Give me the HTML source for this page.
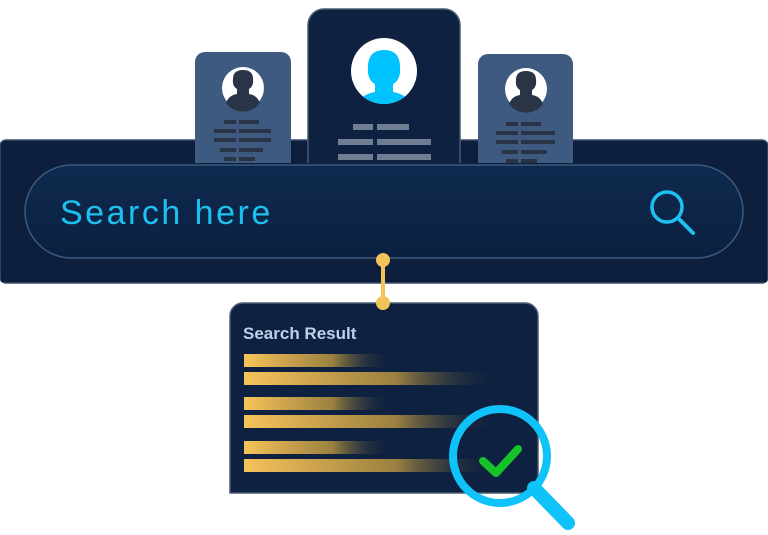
<!DOCTYPE html>
<html><head><style>
body{margin:0;width:768px;height:535px;background:#fff;position:relative;overflow:hidden;font-family:"Liberation Sans",sans-serif}
.a{position:absolute}
</style></head><body>
<svg class="a" style="left:0;top:0" width="768" height="535" viewBox="0 0 768 535">
<defs>
<linearGradient id="g1" x1="0" x2="1"><stop offset="0" stop-color="#f7c35a"/><stop offset="0.6" stop-color="#9a8040"/><stop offset="1" stop-color="#0f2340" stop-opacity="0"/></linearGradient>
<linearGradient id="pill" x1="0" y1="0" x2="0" y2="1"><stop offset="0" stop-color="#0f2a4f"/><stop offset="1" stop-color="#0a2040"/></linearGradient>
</defs>
<rect x="0" y="140" width="768" height="143" rx="6" fill="#0d1f3c" stroke="#3a4f6e" stroke-width="1.5"/>
<!-- cards -->
<path d="M195 163 V62 a10 10 0 0 1 10-10 H281 a10 10 0 0 1 10 10 V163z" fill="#3f5a80"/>
<circle cx="243" cy="88" r="21" fill="#fff"/>
<path d="M226 103 q3-8 11-9 v-5 q-5-3-4-10 q0-9 10-9 q10 0 10 9 q1 7-4 10 v5 q8 1 11 9 a21 21 0 0 1-34 0z" fill="#2a3447"/>
<g fill="#2a3447"><rect x="224" y="120" width="12" height="4"/><rect x="239" y="120" width="20" height="4"/><rect x="214" y="129" width="22" height="4"/><rect x="239" y="129" width="32" height="4"/><rect x="214" y="138" width="22" height="4"/><rect x="239" y="138" width="32" height="4"/><rect x="220" y="148" width="16" height="4"/><rect x="239" y="148" width="24" height="4"/><rect x="224" y="157" width="12" height="4"/><rect x="239" y="157" width="16" height="4"/></g>
<path d="M478 163 V64 a10 10 0 0 1 10-10 H563 a10 10 0 0 1 10 10 V163z" fill="#3f5a80"/>
<circle cx="526" cy="89" r="21" fill="#fff"/>
<path d="M509 104 q3-8 11-9 v-5 q-5-3-4-10 q0-9 10-9 q10 0 10 9 q1 7-4 10 v5 q8 1 11 9 a21 21 0 0 1-34 0z" fill="#2a3447"/>
<g fill="#2a3447"><rect x="506" y="122" width="12" height="4"/><rect x="521" y="122" width="20" height="4"/><rect x="496" y="131" width="22" height="4"/><rect x="521" y="131" width="34" height="4"/><rect x="496" y="140" width="22" height="4"/><rect x="521" y="140" width="34" height="4"/><rect x="502" y="150" width="16" height="4"/><rect x="521" y="150" width="26" height="4"/><rect x="506" y="159" width="12" height="4"/><rect x="521" y="159" width="16" height="4"/></g>
<path d="M308 163 V25 a16 16 0 0 1 16-16 H444 a16 16 0 0 1 16 16 V163" fill="#0f2140" stroke="#4a5b74" stroke-width="1.5"/>
<circle cx="384" cy="71" r="33" fill="#fff"/>
<clipPath id="cc"><circle cx="384" cy="71" r="33"/></clipPath>
<path clip-path="url(#cc)" d="M355 110 q3-15 20-18 v-8 q-8-4-7-17 q0-17 16-17 q16 0 16 17 q1 13-7 17 v8 q17 3 20 18z" fill="#00c2ff"/>
<g fill="#6f7e92"><rect x="353" y="124" width="20" height="6"/><rect x="377" y="124" width="32" height="6"/><rect x="338" y="139" width="35" height="6"/><rect x="377" y="139" width="54" height="6"/><rect x="338" y="154" width="35" height="6"/><rect x="377" y="154" width="54" height="6"/></g>
<rect x="1" y="163" width="766" height="119" fill="#0d1f3c"/>
<rect x="25" y="165" width="718" height="93" rx="46.5" fill="url(#pill)" stroke="#3a5a80" stroke-width="1.5"/>
<text x="60" y="224" font-family="Liberation Sans" font-size="34" fill="#1ec0f0" letter-spacing="2.5">Search here</text>
<circle cx="667" cy="207" r="15" fill="none" stroke="#1ec0f0" stroke-width="3.5"/>
<line x1="678" y1="218" x2="693" y2="233" stroke="#1ec0f0" stroke-width="4" stroke-linecap="round"/>
<line x1="383" y1="260" x2="383" y2="302" stroke="#f3c35a" stroke-width="4"/>
<circle cx="383" cy="260" r="7" fill="#f3c35a"/>
<path d="M230 493 V316 a13 13 0 0 1 13-13 H525 a13 13 0 0 1 13 13 V493z" fill="#0f2140" stroke="#4a5b74" stroke-width="1.5"/>
<circle cx="383" cy="303" r="7" fill="#f3c35a"/>
<text x="243" y="339" font-size="17" fill="#bdd0ea" font-weight="bold" font-family="Liberation Sans">Search Result</text>
<g fill="url(#g1)"><rect x="244" y="354" width="148" height="13"/><rect x="244" y="372" width="254" height="13"/><rect x="244" y="397" width="148" height="13"/><rect x="244" y="415" width="254" height="13"/><rect x="244" y="441" width="148" height="13"/><rect x="244" y="459" width="254" height="13"/></g>
<line x1="534" y1="488" x2="568" y2="523" stroke="#0fc2fa" stroke-width="14" stroke-linecap="round"/>
<circle cx="500" cy="456" r="47" fill="none" stroke="#0fc2fa" stroke-width="8"/>
<path d="M483 461 l13 12 l22-24" fill="none" stroke="#15c22a" stroke-width="8" stroke-linecap="round" stroke-linejoin="round"/>
</svg>
</body></html>
